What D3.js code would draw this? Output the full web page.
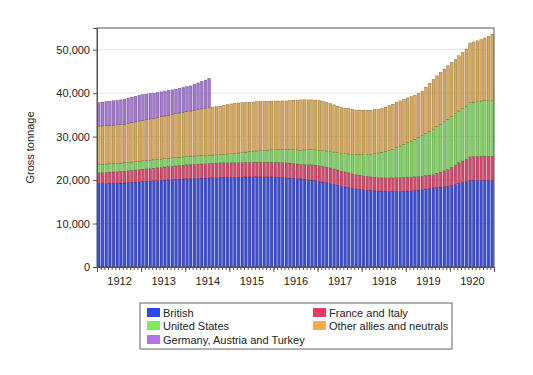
<!DOCTYPE html>
<html>
<head>
<meta charset="utf-8">
<script src="https://cdn.jsdelivr.net/npm/d3@7"></script>
<style>
  body { margin: 0; background: #fff; }
  svg { display: block; font-family: "Liberation Sans", Arial, sans-serif; }
</style>
</head>
<body>
<svg width="533" height="375"></svg>
<script>
const years = [1912, 1913, 1914, 1915, 1916, 1917, 1918, 1919, 1920];
const yTicks = [0, 10000, 20000, 30000, 40000, 50000];

// monthly gross tonnage, Jan 1912 .. Dec 1920
const british = [
  19190, 19210, 19230, 19250, 19270, 19300, 19320, 19350, 19400, 19450, 19510, 19580,
  19640, 19700, 19760, 19820, 19880, 19940, 20000, 20050, 20110, 20150, 20200, 20240,
  20290, 20340, 20380, 20410, 20440, 20470, 20500, 20540, 20580, 20650, 20650, 20650,
  20650, 20650, 20670, 20690, 20710, 20720, 20730, 20730, 20730, 20730, 20730, 20720,
  20680, 20630, 20570, 20500, 20450, 20390, 20330, 20270, 20190, 20100, 20000, 19880,
  19720, 19550, 19370, 19190, 18990, 18780, 18570, 18420, 18260, 18110, 17950, 17850,
  17760, 17660, 17570, 17520, 17460, 17410, 17410, 17410, 17410, 17410, 17410, 17410,
  17460, 17510, 17570, 17680, 17800, 17930, 18050, 18180, 18280, 18370, 18460, 18560,
  18760, 18970, 19190, 19450, 19700, 19950, 19950, 19950, 19950, 19950, 19950, 19950
];
const franceItaly = [
  2470, 2500, 2530, 2560, 2600, 2630, 2660, 2690, 2730, 2770, 2800, 2840,
  2860, 2880, 2900, 2910, 2930, 2970, 3000, 3040, 3080, 3110, 3140, 3170,
  3210, 3240, 3250, 3260, 3270, 3280, 3300, 3310, 3310, 3320, 3320, 3320,
  3320, 3320, 3330, 3340, 3350, 3360, 3370, 3380, 3390, 3390, 3390, 3400,
  3410, 3430, 3450, 3470, 3460, 3420, 3370, 3310, 3380, 3450, 3500, 3550,
  3580, 3590, 3600, 3610, 3570, 3520, 3470, 3440, 3400, 3360, 3320, 3280,
  3240, 3200, 3160, 3130, 3110, 3090, 3090, 3090, 3090, 3140, 3190, 3240,
  3210, 3180, 3160, 3120, 3080, 3080, 3090, 3090, 3280, 3470, 3670, 3860,
  4170, 4470, 4780, 4940, 5100, 5410, 5450, 5500, 5550, 5550, 5550, 5550
];
const unitedStates = [
  1920, 1920, 1930, 1930, 1930, 1930, 1930, 1930, 1930, 1930, 1930, 1930,
  1930, 1930, 1920, 1920, 1920, 1920, 1920, 1930, 1930, 1930, 1930, 1920,
  1920, 1920, 1920, 1910, 1910, 1900, 1900, 1910, 1920, 1930, 1980, 2040,
  2100, 2150, 2230, 2310, 2380, 2460, 2540, 2600, 2660, 2710, 2770, 2830,
  2890, 2950, 3020, 3080, 3140, 3200, 3250, 3310, 3370, 3420, 3480, 3530,
  3590, 3660, 3730, 3800, 3890, 3990, 4080, 4210, 4350, 4480, 4620, 4750,
  4890, 5020, 5160, 5420, 5670, 5930, 6140, 6340, 6550, 6880, 7220, 7550,
  7910, 8270, 8630, 9010, 9400, 9730, 10070, 10400, 10700, 10990, 11290, 11580,
  11700, 11810, 11930, 12060, 12200, 12480, 12550, 12630, 12700, 12760, 12810, 12870
];
const otherAllies = [
  8850, 8850, 8850, 8850, 8850, 8850, 8850, 8850, 8950, 9050, 9140, 9240,
  9320, 9400, 9480, 9550, 9630, 9730, 9820, 9920, 10010, 10090, 10170, 10240,
  10320, 10400, 10520, 10640, 10760, 10880, 11000, 11030, 11070, 11100, 11220, 11330,
  11450, 11560, 11510, 11470, 11420, 11380, 11330, 11310, 11290, 11270, 11250, 11230,
  11210, 11190, 11170, 11170, 11270, 11370, 11460, 11560, 11530, 11500, 11470, 11440,
  11410, 11270, 11140, 11000, 10850, 10710, 10560, 10480, 10400, 10320, 10240, 10220,
  10210, 10190, 10170, 10120, 10070, 10020, 10150, 10270, 10400, 10400, 10400, 10400,
  10320, 10250, 10170, 10170, 10170, 10620, 11080, 11530, 11720, 11920, 12110, 12300,
  12430, 12570, 12700, 12930, 13160, 13710, 13840, 13970, 14100, 14440, 14790, 15130
];
// Jan 1912 .. Jul 1914 only
const centralPowers = [
  5410, 5450, 5500, 5540, 5590, 5640, 5700, 5780, 5820, 5860, 5900, 5940,
  5910, 5880, 5850, 5810, 5780, 5740, 5710, 5670, 5630, 5660, 5690, 5720,
  5750, 5780, 5960, 6140, 6320, 6500, 6680
];

const series = [
  { key: "british", name: "British", values: british, fill: "#3a4ed6", stroke: "#1c2480", swatch: "#2a48ec" },
  { key: "france", name: "France and Italy", values: franceItaly, fill: "#d8476c", stroke: "#7a2038", swatch: "#e83a62" },
  { key: "us", name: "United States", values: unitedStates, fill: "#7fd862", stroke: "#44702f", swatch: "#80ea5c" },
  { key: "other", name: "Other allies and neutrals", values: otherAllies, fill: "#dcaa5a", stroke: "#7a5a26", swatch: "#f2ae4c" },
  { key: "central", name: "Germany, Austria and Turkey", values: centralPowers, fill: "#a678d6", stroke: "#5a3e78", swatch: "#b472ea" }
];

const months = [];
years.forEach(yr => d3.range(1, 13).forEach(m => months.push(yr + "-" + m)));

const table = months.map((m, i) => {
  const row = { month: m };
  series.forEach(s => { row[s.key] = s.values[i] || 0; });
  return row;
});

const svg = d3.select("svg");
const plotL = 97, plotR = 494, plotT = 28, plotB = 267;

const x = d3.scaleBand().domain(months).range([plotL, plotR]).paddingInner(0.3).paddingOuter(0.15);
const xl = d3.scaleLinear().domain([0, months.length]).range([plotL, plotR]);
const y = d3.scaleLinear().domain([0, 55000]).range([plotB, plotT]);

// faint gridlines
svg.append("g")
  .selectAll("line")
  .data(yTicks.slice(1))
  .enter()
  .append("line")
  .attr("x1", plotL).attr("x2", plotR)
  .attr("y1", d => y(d)).attr("y2", d => y(d))
  .attr("stroke", "#e4e4e4");

const stacked = d3.stack().keys(series.map(s => s.key))(table);

stacked.forEach((layer, li) => {
  const s = series[li];
  svg.append("g")
    .selectAll("rect")
    .data(layer.filter(d => d[1] > d[0]))
    .enter()
    .append("rect")
    .attr("x", d => x(d.data.month))
    .attr("width", x.bandwidth())
    .attr("y", d => y(d[1]))
    .attr("height", d => y(d[0]) - y(d[1]))
    .attr("fill", s.fill)
    .attr("stroke", s.stroke)
    .attr("stroke-width", 0.4);
});

// frame
svg.append("rect")
  .attr("x", plotL).attr("y", plotT)
  .attr("width", plotR - plotL).attr("height", plotB - plotT)
  .attr("fill", "none")
  .attr("stroke", "#555");

// y axis
const yAxis = svg.append("g")
  .attr("transform", "translate(" + plotL + ",0)")
  .call(d3.axisLeft(y).tickValues(yTicks).tickFormat(d3.format(",")).tickSize(4).tickPadding(3));
yAxis.select(".domain").attr("stroke", "#555");
yAxis.selectAll("line").attr("stroke", "#555");
yAxis.selectAll("text").attr("font-size", 11).attr("fill", "#222").attr("font-family", "Liberation Sans, Arial, sans-serif");

// x axis: month ticks, longer year ticks, year labels
const xMinor = svg.append("g")
  .attr("transform", "translate(0," + plotB + ")")
  .call(d3.axisBottom(xl).tickValues(d3.range(0, months.length + 1)).tickSize(3).tickFormat(""));
xMinor.select(".domain").attr("stroke", "#555");
xMinor.selectAll("line").attr("stroke", "#555");

const xMajor = svg.append("g")
  .attr("transform", "translate(0," + plotB + ")")
  .call(d3.axisBottom(xl).tickValues(d3.range(0, months.length + 1, 12)).tickSize(5).tickFormat(""));
xMajor.select(".domain").remove();
xMajor.selectAll("line").attr("stroke", "#555");

const xLabels = svg.append("g")
  .attr("transform", "translate(0," + plotB + ")")
  .call(d3.axisBottom(xl).tickValues(years.map((yr, i) => i * 12 + 6)).tickSize(0).tickPadding(10)
    .tickFormat((d, i) => years[i]));
xLabels.select(".domain").remove();
xLabels.selectAll("text").attr("font-size", 11).attr("fill", "#222").attr("font-family", "Liberation Sans, Arial, sans-serif");

// y title
svg.append("text")
  .attr("transform", "translate(34," + ((plotT + plotB) / 2) + ") rotate(-90)")
  .attr("text-anchor", "middle")
  .attr("font-size", 11)
  .attr("fill", "#222")
  .text("Gross tonnage");

// legend
const legend = svg.append("g");
legend.append("rect")
  .attr("x", 140).attr("y", 303)
  .attr("width", 312).attr("height", 46)
  .attr("fill", "#fff")
  .attr("stroke", "#666");

const legendPos = [[147, 308], [313, 308], [147, 321], [313, 321], [147, 335]];
const items = legend.selectAll("g.item")
  .data(series)
  .enter()
  .append("g")
  .attr("class", "item")
  .attr("transform", (d, i) => "translate(" + legendPos[i][0] + "," + legendPos[i][1] + ")");
items.append("rect")
  .attr("width", 13).attr("height", 9)
  .attr("fill", d => d.swatch);
items.append("text")
  .attr("x", 16).attr("y", 8.5)
  .attr("font-size", 11)
  .attr("fill", "#222")
  .text(d => d.name);
</script>
</body>
</html>
